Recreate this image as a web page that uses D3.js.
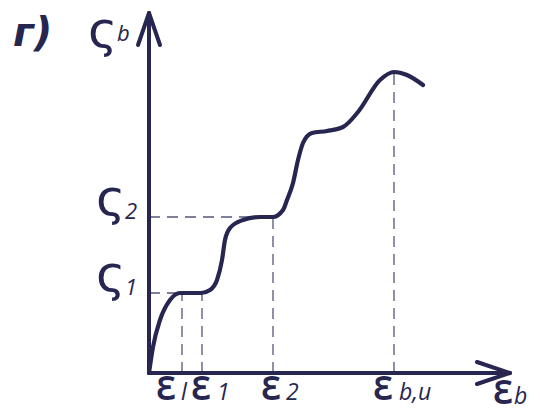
<!DOCTYPE html>
<html><head><meta charset="utf-8">
<script src="https://cdn.jsdelivr.net/npm/d3@7"></script>
<style>body{margin:0;background:#fff}svg{display:block}</style>
</head><body><svg id="c" width="540" height="415"></svg>
<script>
// data (arbitrary units)
const curveX = [0, 4, 11, 21, 31, 40, 52, 61, 68, 73, 76, 81, 94, 111, 124, 134, 138, 144, 149, 154, 163, 178, 194, 209, 231, 245, 258, 274];
const curveY = [0, 26, 53, 73, 80, 80, 80, 83, 93, 113, 133, 145, 153, 156, 156, 163, 173, 190, 213, 230, 240, 242, 246, 261, 293, 301, 298, 288];
const xTickNames = ["ε", "ε", "ε", "ε"];
const xTickSubs = ["l", "1", "2", "b,u"];
const xTickValues = [33, 53, 124, 245];
const yTickSubs = ["1", "2"];
const yTickValues = [80, 156];
const xAxisMax = 361, yAxisMax = 360;

const col = "#262650", dashCol = "#55557a";
const svg = d3.select("#c");
const x = d3.scaleLinear().domain([0, xAxisMax]).range([149, 510]);
const y = d3.scaleLinear().domain([0, yAxisMax]).range([373, 13]);

// dashed guide lines
const g = svg.append("g");
yTickValues.forEach((v, i) => {
  const xe = i === 0 ? xTickValues[1] : xTickValues[2];
  g.append("line").attr("x1", x(0)).attr("x2", x(xe)).attr("y1", y(v)).attr("y2", y(v))
    .attr("stroke", dashCol).attr("stroke-width", 1.3).attr("stroke-dasharray", "11,7");
});
const vTop = [80, 80, 156, 301];
xTickValues.forEach((v, i) => {
  g.append("line").attr("x1", x(v)).attr("x2", x(v)).attr("y1", y(0)).attr("y2", y(vTop[i]))
    .attr("stroke", dashCol).attr("stroke-width", 1.3).attr("stroke-dasharray", "11,7");
});

// axes
const ax = svg.append("g").attr("stroke", col).attr("stroke-width", 4).attr("fill", "none")
  .attr("stroke-linecap", "round").attr("stroke-linejoin", "round");
ax.append("line").attr("x1", x(0)).attr("y1", y(0)).attr("x2", x(0)).attr("y2", y(yAxisMax));
ax.append("line").attr("x1", x(0)).attr("y1", y(0)).attr("x2", x(xAxisMax)).attr("y2", y(0));
ax.append("path").attr("d", `M${x(0)-11},${y(yAxisMax)+32} L${x(0)},${y(yAxisMax)} L${x(0)+11},${y(yAxisMax)+32}`);
ax.append("path").attr("d", `M${x(xAxisMax)-33},${y(0)-11} L${x(xAxisMax)},${y(0)} L${x(xAxisMax)-33},${y(0)+11}`);

// curve
const pts = curveX.map((d, i) => [d, curveY[i]]);
svg.append("path").datum(pts)
  .attr("d", d3.line().x(d => x(d[0])).y(d => y(d[1])).curve(d3.curveMonotoneX))
  .attr("fill", "none").attr("stroke", col).attr("stroke-width", 4.2).attr("stroke-linecap", "round");

// labels
const epsFont = "'Open Sans', 'DejaVu Sans', sans-serif";
const sigFont = "'DejaVu Sans', sans-serif";
const subFont = "'Open Sans', 'DejaVu Sans', sans-serif";
function eps(px, py, sub, subGap) {
  svg.append("text").attr("transform", `translate(${px},${py}) scale(0.92,1.05)`)
    .attr("fill", col).attr("font-family", epsFont).attr("font-size", 42).attr("font-weight", 600).text("ε");
  svg.append("text").attr("x", px + subGap).attr("y", py).attr("fill", col).attr("font-family", subFont)
    .attr("font-size", 23).attr("font-style", "italic").text(sub);
}
function sig(px, py, sub, subX, subY) {
  svg.append("text").attr("x", px).attr("y", py).attr("fill", col).attr("font-family", sigFont)
    .attr("font-size", 50).text("ς");
  svg.append("text").attr("x", subX).attr("y", subY).attr("fill", col).attr("font-family", subFont)
    .attr("font-size", 22).attr("font-style", "italic").text(sub);
}
const xOff = [-26, -11, -12, -21];
const subGap = [25, 26, 25, 26];
xTickValues.forEach((v, i) => eps(x(v) + xOff[i], 400, xTickSubs[i], subGap[i]));
eps(x(xAxisMax) - 17, 404, "b", 21);
yTickValues.forEach((v, i) => sig(96, y(v) - 2, yTickSubs[i], 125, y(v) + 2));
sig(88, 47, "b", 117, 41);
svg.append("text").attr("x", 13).attr("y", 46).attr("fill", col).attr("font-family", sigFont)
  .attr("font-size", 40).attr("font-style", "oblique").attr("font-weight", 700).text("г)");
</script></body></html>
